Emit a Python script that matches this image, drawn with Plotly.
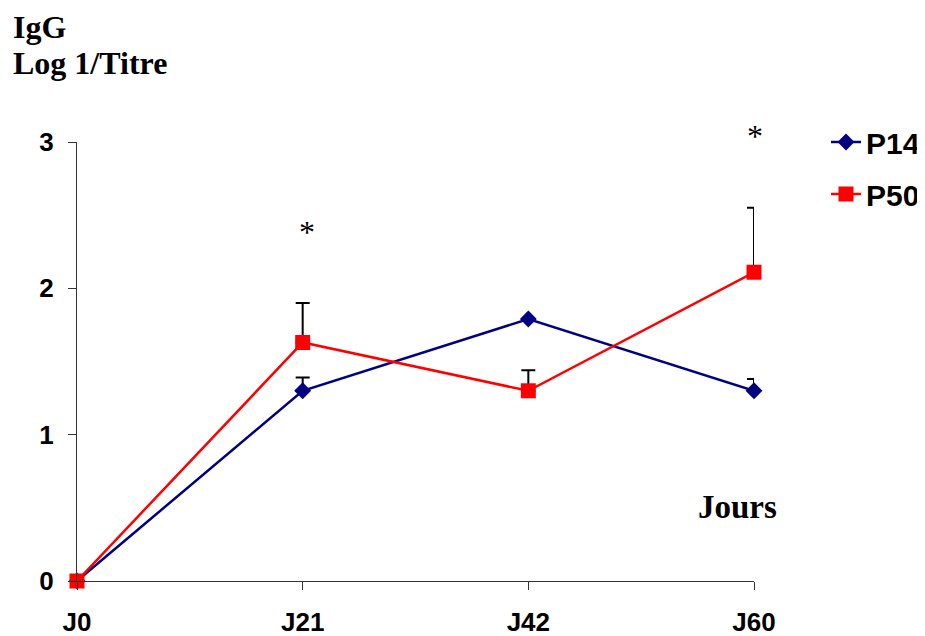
import plotly.graph_objects as go

categories = ["J0", "J21", "J42", "J60"]
p14 = [0, 1.30, 1.79, 1.30]
p14_err = [0, 0.09, 0, 0.08]
p50 = [0, 1.63, 1.30, 2.11]
p50_err = [0, 0.27, 0.14, 0.44]
y_ticks = [0, 1, 2, 3]

xpos = list(range(len(categories)))

# page has an 8px body margin: figure is 917x628 and drawn at offset (8, 8)
OFF = 8
FIG_W, FIG_H = 917, 628
L, T = 77 - OFF, 142 - OFF
PW, PH = 754 - 77, 581 - 142
R, B = FIG_W - L - PW, FIG_H - T - PH

def px(x): return (x - 77) / PW
def py(y): return (581 - y) / PH

serif = "Liberation Serif, Times New Roman, serif"
sans = "Liberation Sans, Arial, sans-serif"

fig = go.Figure()
fig.add_trace(go.Scatter(
    x=xpos, y=p14, name="P14", mode="lines+markers",
    line=dict(color="#000080", width=2.5),
    marker=dict(symbol="diamond", size=13, color="#000080"),
    error_y=dict(type="data", array=p14_err, arrayminus=[0]*4, symmetric=False,
                 color="black", thickness=2, width=7),
    cliponaxis=False, legendgroup="a",
))
fig.add_trace(go.Scatter(
    x=xpos, y=p50, name="P50", mode="lines+markers",
    line=dict(color="#ff0000", width=2.5),
    marker=dict(symbol="square", size=15, color="#ff0000"),
    error_y=dict(type="data", array=p50_err, arrayminus=[0]*4, symmetric=False,
                 color="black", thickness=2, width=7),
    cliponaxis=False, legendgroup="b",
))

fig.update_layout(
    width=FIG_W, height=FIG_H,
    margin=dict(l=L, r=R, t=T, b=B, autoexpand=False),
    plot_bgcolor="white", paper_bgcolor="white",
    showlegend=True,
    legend=dict(x=px(826), y=py(116), xanchor="left", yanchor="top",
                font=dict(family=sans, size=30, color="black", weight="bold"),
                traceorder="grouped", tracegroupgap=10, bgcolor="rgba(0,0,0,0)"),
    xaxis=dict(range=[0, 3], tickvals=xpos, ticktext=categories, automargin=False,
               showgrid=False, zeroline=False, showline=True, linecolor="#333", linewidth=1,
               ticks="outside", ticklen=8, tickcolor="#333", ticklabelstandoff=10,
               tickfont=dict(family=sans, size=26, color="black", weight="bold")),
    yaxis=dict(range=[0, 3], tickvals=y_ticks, automargin=False,
               showgrid=False, zeroline=False, showline=True, linecolor="#333", linewidth=1,
               ticks="outside", ticklen=8, tickcolor="#333", ticklabelstandoff=9,
               tickfont=dict(family=sans, size=26, color="black", weight="bold")),
    annotations=[
        dict(x=px(307), y=py(232), text="*", showarrow=False, xref="paper", yref="paper",
             xanchor="center", yanchor="middle",
             font=dict(family=serif, size=32, color="black")),
        dict(x=px(755), y=py(136), text="*", showarrow=False, xref="paper", yref="paper",
             xanchor="center", yanchor="middle",
             font=dict(family=serif, size=32, color="black")),
        dict(x=px(737), y=py(507), text="Jours", showarrow=False, xref="paper", yref="paper",
             xanchor="center", yanchor="middle",
             font=dict(family=serif, size=33, color="black", weight="bold")),
        dict(x=px(11), y=py(27), text="IgG", showarrow=False, xref="paper", yref="paper",
             xanchor="left", yanchor="middle",
             font=dict(family=serif, size=32, color="black", weight="bold")),
        dict(x=px(11), y=py(63), text="Log 1/Titre", showarrow=False, xref="paper", yref="paper",
             xanchor="left", yanchor="middle",
             font=dict(family=serif, size=32, color="black", weight="bold")),
    ],
)

fig.write_html("out.html")
